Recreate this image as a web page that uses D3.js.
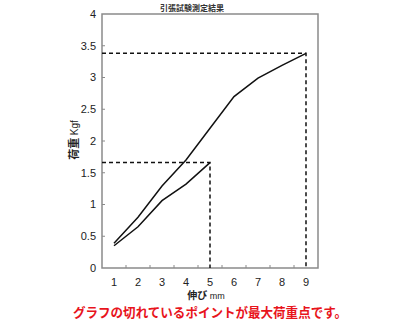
<!DOCTYPE html>
<html lang="ja">
<head>
<meta charset="UTF-8">
<title>引張試験測定結果</title>
<script src="https://d3js.org/d3.v7.min.js"></script>
<style>
    body { margin: 0; background: #fff; }
    svg { display: block; }
    .tick-label { font: 11px "Liberation Sans", Arial, sans-serif; fill: #222; }
</style>
</head>
<body>
<script>
    // data
    const elongation = [1, 2, 3, 4, 5, 6, 7, 8, 9];
    const loadLong = [0.39, 0.80, 1.29, 1.70, 2.20, 2.70, 2.99, 3.19, 3.38];
    const loadShort = [0.35, 0.65, 1.06, 1.32, 1.66];
    const yTicks = [0, 0.5, 1, 1.5, 2, 2.5, 3, 3.5, 4];
    const yTickLabels = ["0", "0.5", "1", "1.5", "2", "2.5", "3", "3.5", "4"];

    const W = 400, H = 320;
    const plot = { left: 102, right: 318, top: 14, bottom: 268 };

    const svg = d3.select("body").append("svg")
        .attr("width", W)
        .attr("height", H);

    const x = d3.scaleLinear().domain([0.5, 9.5]).range([plot.left, plot.right]);
    const y = d3.scaleLinear().domain([0, 4]).range([plot.bottom, plot.top]);

    // frame
    svg.append("rect")
        .attr("x", plot.left).attr("y", plot.top)
        .attr("width", plot.right - plot.left)
        .attr("height", plot.bottom - plot.top)
        .attr("fill", "none")
        .attr("stroke", "#8a8a8a")
        .attr("stroke-width", 1.5);

    // y ticks (small marks inside) + labels
    svg.selectAll(".ytick")
        .data(yTicks.slice(1, -1))
        .enter().append("line")
        .attr("x1", plot.left).attr("x2", plot.left + 3)
        .attr("y1", d => y(d)).attr("y2", d => y(d))
        .attr("stroke", "#8a8a8a");

    svg.selectAll(".ylab")
        .data(yTicks)
        .enter().append("text")
        .attr("class", "tick-label")
        .attr("x", plot.left - 6)
        .attr("y", d => y(d))
        .attr("dy", "0.35em")
        .attr("text-anchor", "end")
        .text((d, i) => yTickLabels[i]);

    // x ticks between categories
    svg.selectAll(".xtick")
        .data(elongation.slice(0, -1))
        .enter().append("line")
        .attr("x1", d => x(d + 0.5)).attr("x2", d => x(d + 0.5))
        .attr("y1", plot.bottom).attr("y2", plot.bottom - 3)
        .attr("stroke", "#8a8a8a");

    svg.selectAll(".xlab")
        .data(elongation)
        .enter().append("text")
        .attr("class", "tick-label")
        .attr("x", d => x(d))
        .attr("y", 282)
        .attr("dy", "0.35em")
        .attr("text-anchor", "middle")
        .text(d => d);

    // dashed guides to the max points
    const peaks = [
        { x: elongation[loadShort.length - 1], y: loadShort[loadShort.length - 1] },
        { x: elongation[loadLong.length - 1], y: loadLong[loadLong.length - 1] }
    ];
    peaks.forEach(p => {
        svg.append("path")
            .attr("d", "M" + x(0.5) + "," + y(p.y) + "H" + x(p.x) + "V" + y(0))
            .attr("fill", "none")
            .attr("stroke", "#111")
            .attr("stroke-width", 1.5)
            .attr("stroke-dasharray", "4,3");
    });

    // series lines
    const line = d3.line()
        .x((d, i) => x(elongation[i]))
        .y(d => y(d));

    [loadLong, loadShort].forEach(s => {
        svg.append("path")
            .datum(s)
            .attr("d", line)
            .attr("fill", "none")
            .attr("stroke", "#111")
            .attr("stroke-width", 1.5);
    });

    // title
    svg.append("text")
        .attr("x", 192).attr("y", 8)
        .attr("dy", "0.35em")
        .attr("text-anchor", "middle")
        .style("font", "bold 8px 'Noto Sans CJK JP', sans-serif")
        .attr("fill", "#333")
        .text("引張試験測定結果");

    // y axis label
    const yl = svg.append("text")
        .attr("transform", "translate(72,140) rotate(-90)")
        .attr("text-anchor", "middle")
        .attr("dy", "0.35em")
        .attr("fill", "#222");
    yl.append("tspan").style("font", "bold 11px 'Noto Sans CJK JP', sans-serif").text("荷重 ");
    yl.append("tspan").style("font", "10px 'Liberation Sans', sans-serif").text("Kgf");

    // x axis label
    const xl = svg.append("text")
        .attr("x", 206).attr("y", 293)
        .attr("dy", "0.35em")
        .attr("text-anchor", "middle")
        .attr("fill", "#222");
    xl.append("tspan").style("font", "bold 10px 'Noto Sans CJK JP', sans-serif").text("伸び ");
    xl.append("tspan").style("font", "9px 'Liberation Sans', sans-serif").text("mm");

    // red note
    svg.append("text")
        .attr("x", 73).attr("y", 312)
        .attr("dy", "0.38em")
        .attr("textLength", 274)
        .attr("lengthAdjust", "spacingAndGlyphs")
        .style("font", "bold 13px 'Noto Sans CJK JP', sans-serif")
        .attr("fill", "#e8141c")
        .text("グラフの切れているポイントが最大荷重点です。");
</script>
</body>
</html>
